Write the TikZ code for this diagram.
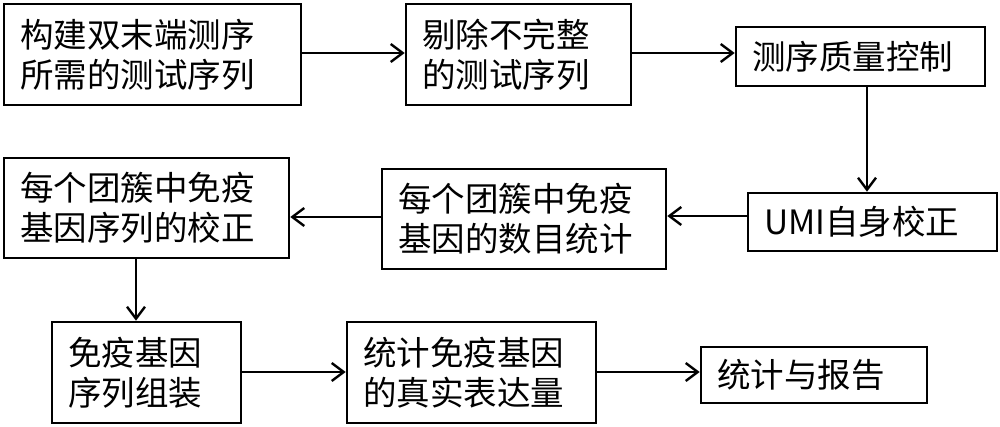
\documentclass[tikz,border=0pt]{standalone}
\usepackage{fontspec}
\setmainfont{Noto Sans CJK SC}
\usetikzlibrary{arrows.meta}
\tikzset{
  stepbox/.style={draw=black, line width=2.6pt, inner xsep=16pt, inner ysep=0pt,
    align=left, font=\fontsize{33.5}{40}\selectfont, anchor=center},
  flow/.style={line width=2.4pt, -{Straight Barb[length=12pt,width=18pt,line width=2.4pt]}}
}
\begin{document}
\begin{tikzpicture}[x=1pt,y=-1pt]
\useasboundingbox (0,0) rectangle (1000,427);
% boxes: center x, center y, width, height
\node[stepbox, minimum width=297pt, minimum height=101pt, text width=265pt] (b1) at (152.5,54.5) {构建双末端测序\\所需的测试序列};
\node[stepbox, minimum width=225pt, minimum height=101pt, text width=193pt] (b2) at (518.5,54.5) {剔除不完整\\的测试序列};
\node[stepbox, minimum width=249pt, minimum height=59pt, text width=217pt] (b3) at (860.5,56.5) {测序质量控制};
\node[stepbox, minimum width=249pt, minimum height=58pt, text width=217pt] (b4) at (872.5,222) {UMI自身校正};
\node[stepbox, minimum width=284pt, minimum height=100pt, text width=252pt] (b5) at (524,219) {每个团簇中免疫\\基因的数目统计};
\node[stepbox, minimum width=285pt, minimum height=100pt, text width=253pt] (b6) at (146.5,208) {每个团簇中免疫\\基因序列的校正};
\node[stepbox, minimum width=189pt, minimum height=101pt, text width=157pt] (b7) at (146.5,372.5) {免疫基因\\序列组装};
\node[stepbox, minimum width=249pt, minimum height=101pt, text width=217pt] (b8) at (471.5,372.5) {统计免疫基因\\的真实表达量};
\node[stepbox, minimum width=226pt, minimum height=56pt, text width=194pt] (b9) at (814,375) {统计与报告};
% helper coordinates for connector offsets
\coordinate (y23) at (0,53);
\coordinate (x34) at (867,0);
\coordinate (y45) at (0,216);
\coordinate (y56) at (0,217);
\coordinate (x67) at (136,0);
\coordinate (y78) at (0,372);
% connectors
\draw[flow] (b1.east |- y23) -- (b2.west |- y23);
\draw[flow] (b2.east |- y23) -- (b3.west |- y23);
\draw[flow] (b3.south -| x34) -- (b4.north -| x34);
\draw[flow] (b4.west |- y45) -- (b5.east |- y45);
\draw[flow] (b5.west |- y56) -- (b6.east |- y56);
\draw[flow] (b6.south -| x67) -- (b7.north -| x67);
\draw[flow] (b7.east |- y78) -- (b8.west |- y78);
\draw[flow] (b8.east |- y78) -- (b9.west |- y78);
\end{tikzpicture}
\end{document}
